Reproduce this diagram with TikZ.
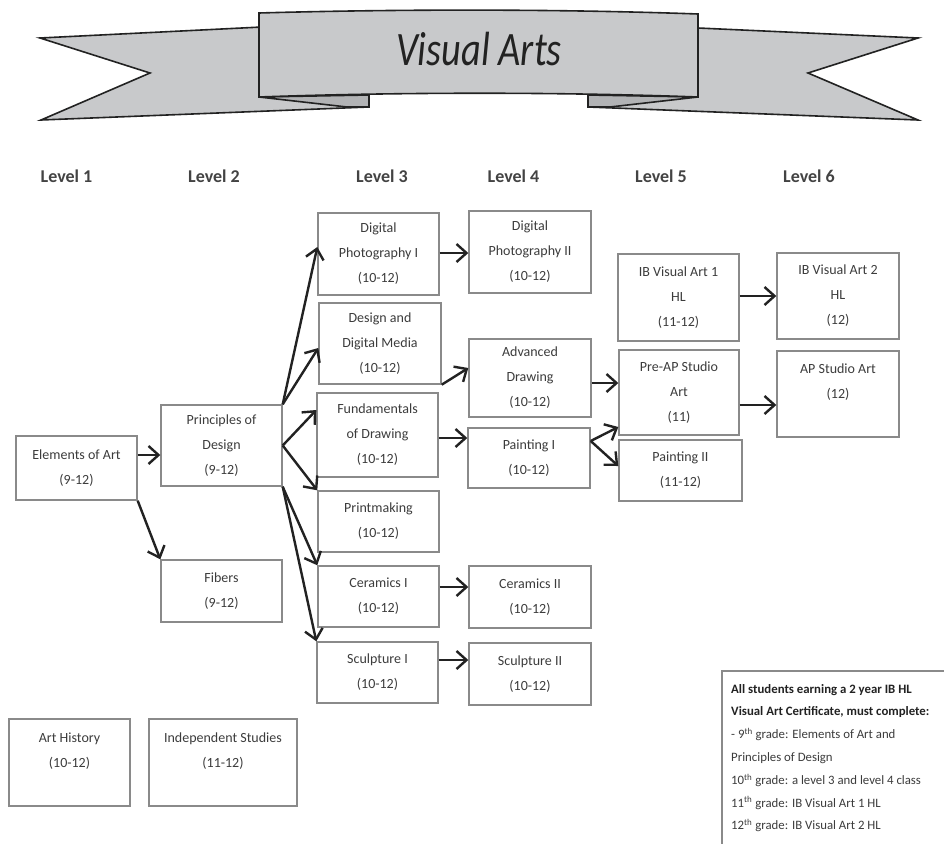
\documentclass[tikz,border=0pt]{standalone}
\usepackage{fontspec}
\setmainfont{Carlito}
\newfontfamily\bannerfont[FakeStretch=0.8]{Carlito}
\usetikzlibrary{arrows.meta}
\definecolor{ribbon}{HTML}{C8C9CB}
\definecolor{ribbondark}{HTML}{B2B3B5}
\definecolor{ink}{HTML}{222222}
\definecolor{boxline}{HTML}{8A8A8A}
\definecolor{boxtext}{HTML}{3C3C3C}
\tikzset{
  ribbonline/.style={draw=ink, line width=1.6pt, line join=miter},
  course/.style={draw=boxline, line width=1.4pt, align=center, text=boxtext,
    font=\fontsize{14}{25}\selectfont, inner sep=0pt},
  levelhead/.style={font=\fontsize{18}{20}\selectfont\bfseries, text=ink!85},
  conn/.style={draw=ink, line width=2.4pt, -{Straight Barb[length=10pt,width=18pt]}},
}
\begin{document}
\begin{tikzpicture}[x=1pt, y=-1pt]
\clip (0,0) rectangle (944,843);
\fill[white] (0,0) rectangle (944,843);
% ---------- banner ----------
\path[ribbonline, fill=ribbon] (40,38) -- (262,27) -- (369,27) -- (369,107) -- (41,120) -- (150,73) -- cycle;
\path[ribbonline, fill=ribbon] (918,38) -- (698,28) -- (588,28) -- (588,107) -- (918,120) -- (808,73) -- cycle;
\path[ribbonline, fill=ribbondark] (259,97) -- (369,95) -- (369,107) -- (347,107) -- cycle;
\path[ribbonline, fill=ribbondark] (698,97) -- (588,95) -- (588,107) -- (610,107) -- cycle;
\path[ribbonline, fill=ribbon] (259,13) .. controls (400,9) and (560,9) .. (698,14) -- (698,97) .. controls (560,92) and (400,92) .. (259,97) -- cycle;
\node[text=ink, font=\bannerfont\itshape\fontsize{48}{50}\selectfont] (title) at (479,49) {Visual Arts};
% ---------- level headings ----------
\node[levelhead] (L1) at (66.5,176) {Level 1};
\node[levelhead] (L2) at (214,176) {Level 2};
\node[levelhead] (L3) at (382,176) {Level 3};
\node[levelhead] (L4) at (513.5,176) {Level 4};
\node[levelhead] (L5) at (661,176) {Level 5};
\node[levelhead] (L6) at (809,176) {Level 6};
% ---------- courses ----------
\node[course, minimum width=121pt, minimum height=64pt] (ea) at (76.5,468) {Elements of Art\\(9-12)};
\node[course, minimum width=121pt, minimum height=81pt] (pd) at (221.5,445.5) {Principles of\\Design\\(9-12)};
\node[course, minimum width=121pt, minimum height=62pt] (fib) at (221.5,591) {Fibers\\(9-12)};
\node[course, minimum width=121pt, minimum height=87pt] (ah) at (69.5,762.5) {Art History\\(10-12)\\~};
\node[course, minimum width=148pt, minimum height=87pt] (is) at (223,762.5) {Independent Studies\\(11-12)\\~};
\node[course, minimum width=121pt, minimum height=82pt] (dp1) at (378.5,254) {Digital\\Photography I\\(10-12)};
\node[course, minimum width=122pt, minimum height=81pt] (ddm) at (380,343.5) {Design and\\Digital Media\\(10-12)};
\node[course, minimum width=121pt, minimum height=84pt] (fd) at (377.5,435) {Fundamentals\\of Drawing\\(10-12)};
\node[course, minimum width=121pt, minimum height=61pt] (pm) at (378.5,521.5) {Printmaking\\(10-12)};
\node[course, minimum width=121pt, minimum height=61pt] (c1) at (378.5,596.5) {Ceramics I\\(10-12)};
\node[course, minimum width=121pt, minimum height=61pt] (s1) at (377.5,672.5) {Sculpture I\\(10-12)};
\node[course, minimum width=122pt, minimum height=82pt] (dp2) at (530,252) {Digital\\Photography II\\(10-12)};
\node[course, minimum width=122pt, minimum height=78pt] (ad) at (530,378) {Advanced\\Drawing\\(10-12)};
\node[course, minimum width=122pt, minimum height=60pt] (p1) at (529,458) {Painting I\\(10-12)};
\node[course, minimum width=122pt, minimum height=62pt] (c2) at (530,597) {Ceramics II\\(10-12)};
\node[course, minimum width=122pt, minimum height=62pt] (s2) at (530,674) {Sculpture II\\(10-12)};
\node[course, minimum width=121pt, minimum height=87pt] (ib1) at (678.5,297.5) {IB Visual Art 1\\HL\\(11-12)};
\node[course, minimum width=120pt, minimum height=85pt] (pap) at (679,392.5) {Pre-AP Studio\\Art\\(11)};
\node[course, minimum width=123pt, minimum height=61pt] (p2) at (680.5,470.5) {Painting II\\(11-12)};
\node[course, minimum width=122pt, minimum height=86pt] (ib2) at (838,296) {IB Visual Art 2\\HL\\(12)};
\node[course, minimum width=122pt, minimum height=86pt] (ap) at (838,394) {AP Studio Art\\(12)\\~};
% ---------- connectors ----------
\draw[conn] (ea.east |- 0,455) -- (pd.west |- 0,455);
\draw[conn] (ea.south east) -- (fib.north west);
\draw[conn] (pd.north east) -- (dp1.west |- 0,247);
\draw[conn] (pd.north east) -- (ddm.west |- 0,348);
\draw[conn] (pd.east) -- (fd.west |- 0,410);
\draw[conn] (pd.east) -- (pm.north west);
\draw[conn] (pd.south east) -- (c1.north west);
\draw[conn] (pd.south east) -- (s1.north west);
\draw[conn] (dp1.east |- 0,253) -- (dp2.west |- 0,253);
\draw[conn] (ddm.south east) -- (ad.west |- 0,368);
\draw[conn] (fd.east |- 0,438) -- (p1.west |- 0,438);
\draw[conn] (ad.east |- 0,383) -- (pap.west |- 0,383);
\draw[conn] (p1.east |- 0,441) -- (pap.west |- 0,427);
\draw[conn] (p1.east |- 0,441) -- (p2.west |- 0,466);
\draw[conn] (ib1.east |- 0,296) -- (ib2.west |- 0,296);
\draw[conn] (pap.east |- 0,405) -- (ap.west |- 0,405);
\draw[conn] (c1.east |- 0,587) -- (c2.west |- 0,587);
\draw[conn] (s1.east |- 0,660) -- (s2.west |- 0,660);
% ---------- note ----------
\node[anchor=north west, inner xsep=9pt, inner ysep=13pt, align=left, text=boxtext,
      font=\fontsize{12.8}{22.8}\selectfont] (note) at (722,671)
  {{\bfseries\color{ink}All students earning a 2 year IB HL}\\
   {\bfseries\color{ink}Visual Art Certificate, must complete:}\\
   - 9\textsuperscript{th} grade: Elements of Art and\\
   Principles of Design\\
   10\textsuperscript{th} grade: a level 3 and level 4 class\\
   11\textsuperscript{th} grade: IB Visual Art 1 HL\\
   12\textsuperscript{th} grade: IB Visual Art 2 HL};
\draw[draw=boxline, line width=1.4pt] (note.north west |- 0,860) -- (note.north west) -- (note.north west -| 960,0);
\end{tikzpicture}
\end{document}
